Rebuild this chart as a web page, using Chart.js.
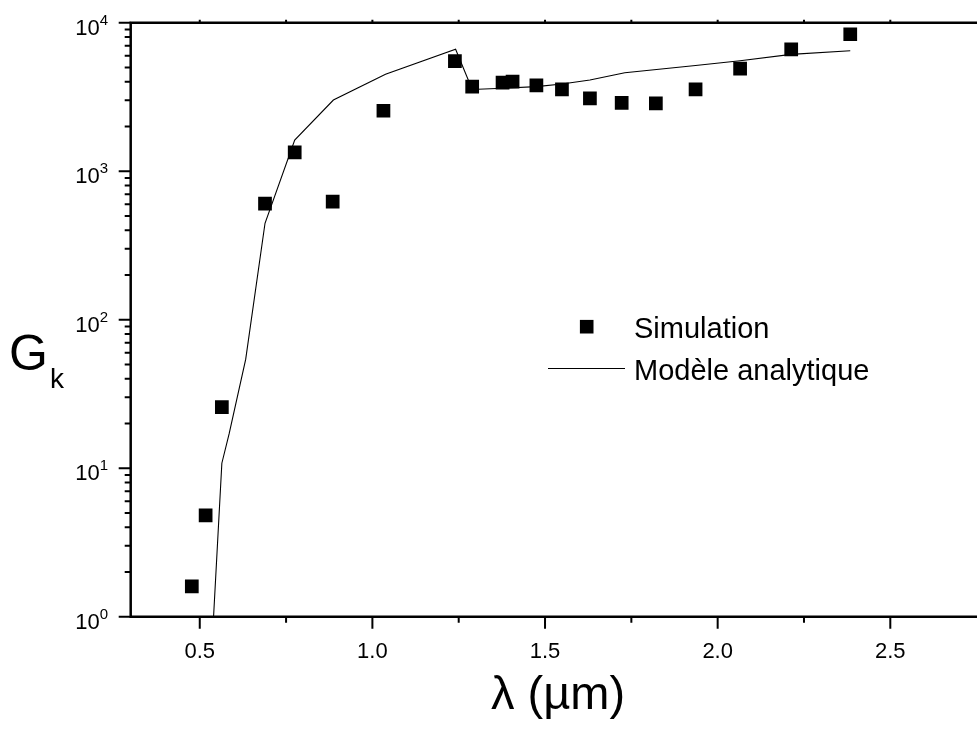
<!DOCTYPE html>
<html>
<head>
<meta charset="utf-8">
<script src="https://cdn.jsdelivr.net/npm/chart.js@4.4.1/dist/chart.umd.min.js"></script>
<style>
  html, body { margin: 0; padding: 0; background: #fff; }
  #wrap { width: 977px; height: 732px; position: relative; }
</style>
</head>
<body>
<div id="wrap"><canvas id="gk-chart" width="977" height="732"></canvas></div>
<script>
(function () {
  "use strict";

  /* ---- data ----------------------------------------------------- */
  const simX   = [0.477, 0.517, 0.564, 0.689, 0.775, 0.885, 1.032, 1.239, 1.289, 1.377,
                  1.406, 1.475, 1.549, 1.630, 1.722, 1.821, 1.936, 2.065, 2.213, 2.384];
  const simY   = [1.60, 4.82, 25.8, 604, 1340, 623, 2553, 5520, 3710, 3945,
                  4010, 3785, 3560, 3097, 2880, 2865, 3560, 4900, 6620, 8360];

  const modelX = [0.540, 0.564, 0.585, 0.633, 0.689, 0.775, 0.887, 1.038, 1.241, 1.289,
                  1.377, 1.475, 1.549, 1.630, 1.731, 1.936, 2.065, 2.213, 2.384];
  const modelY = [1.0, 10.8, 17, 54, 446, 1622, 3013, 4500, 6620, 3550,
                  3620, 3710, 3865, 4110, 4600, 5150, 5550, 6120, 6470];

  const xMajor = [0.5, 1.0, 1.5, 2.0, 2.5];
  const xMinor = [0.75, 1.25, 1.75, 2.25];
  const yDecades = [0, 1, 2, 3, 4];

  const FONT = '"Liberation Sans", Arial, Helvetica, sans-serif';
  const INK  = "#000";

  const toPts = (xs, ys) => xs.map((x, i) => ({ x: x, y: ys[i] }));

  /* ---- axes, ticks, labels and legend drawn on top -------------- */
  const frame = {
    id: "frame",
    afterDraw(chart) {
      const ctx = chart.ctx;
      const a = chart.chartArea;
      const xs = chart.scales.x;
      const ys = chart.scales.y;
      const W = chart.width;

      ctx.save();
      ctx.strokeStyle = INK;
      ctx.fillStyle = INK;

      /* frame lines */
      ctx.lineWidth = 2.5;
      ctx.beginPath();
      ctx.moveTo(a.left, a.top - 1.2);
      ctx.lineTo(a.left, a.bottom + 1.2);
      ctx.moveTo(a.left, a.bottom);
      ctx.lineTo(W, a.bottom);
      ctx.moveTo(a.left, a.top);
      ctx.lineTo(W, a.top);
      ctx.stroke();

      /* x ticks */
      ctx.lineWidth = 2;
      ctx.beginPath();
      xMajor.forEach((v) => {
        const p = xs.getPixelForValue(v);
        ctx.moveTo(p, a.bottom); ctx.lineTo(p, a.bottom + 12);
        ctx.moveTo(p, a.top);    ctx.lineTo(p, a.top - 3);
      });
      xMinor.forEach((v) => {
        const p = xs.getPixelForValue(v);
        ctx.moveTo(p, a.bottom); ctx.lineTo(p, a.bottom + 6);
        ctx.moveTo(p, a.top);    ctx.lineTo(p, a.top - 3);
      });
      ctx.stroke();

      ctx.font = "22px " + FONT;
      ctx.textAlign = "center";
      ctx.textBaseline = "alphabetic";
      xMajor.forEach((v) => {
        ctx.fillText(v.toFixed(1), xs.getPixelForValue(v), a.bottom + 41);
      });

      /* y ticks: decades and 2..9 minors */
      ctx.beginPath();
      yDecades.forEach((d) => {
        const p = ys.getPixelForValue(Math.pow(10, d));
        ctx.moveTo(a.left, p); ctx.lineTo(a.left - 12, p);
        if (d < 4) {
          for (let m = 2; m <= 9; m++) {
            const q = ys.getPixelForValue(m * Math.pow(10, d));
            ctx.moveTo(a.left, q); ctx.lineTo(a.left - 6, q);
          }
        }
      });
      ctx.stroke();

      yDecades.forEach((d) => {
        const p = ys.getPixelForValue(Math.pow(10, d));
        ctx.textAlign = "right";
        ctx.font = "22px " + FONT;
        ctx.fillText("10", a.left - 31, p + 12);
        ctx.textAlign = "left";
        ctx.font = "15px " + FONT;
        ctx.fillText(String(d), a.left - 31, p + 2);
      });

      /* axis titles */
      ctx.textAlign = "left";
      ctx.font = "50px " + FONT;
      ctx.fillText("G", 9, 370);
      ctx.font = "28px " + FONT;
      ctx.fillText("k", 50, 388);

      ctx.textAlign = "center";
      ctx.font = "47px " + FONT;
      ctx.fillText("\u03bb (\u00b5m)", 558, 709);

      /* legend */
      ctx.fillRect(586.7 - 6.8, 326.7 - 6.8, 13.6, 13.6);
      ctx.lineWidth = 1;
      ctx.beginPath();
      ctx.moveTo(548, 368.5); ctx.lineTo(625, 368.5);
      ctx.stroke();
      ctx.textAlign = "left";
      ctx.font = "29px " + FONT;
      ctx.fillText("Simulation", 634, 338);
      ctx.fillText("Mod\u00e8le analytique", 634, 380);

      ctx.restore();
    },
  };

  new Chart(document.getElementById("gk-chart").getContext("2d"), {
    type: "scatter",
    data: {
      datasets: [
        {
          label: "Mod\u00e8le analytique",
          data: toPts(modelX, modelY),
          showLine: true,
          borderColor: INK,
          borderWidth: 1.1,
          pointRadius: 0,
          tension: 0,
        },
        {
          label: "Simulation",
          data: toPts(simX, simY),
          showLine: false,
          pointStyle: "rect",
          pointRadius: 9.7,
          pointBorderWidth: 0,
          backgroundColor: INK,
          borderColor: INK,
        },
      ],
    },
    options: {
      responsive: false,
      animation: false,
      devicePixelRatio: 1,
      layout: { padding: { left: 130.7, top: 22.7, right: 0, bottom: 115.3 } },
      plugins: { legend: { display: false }, tooltip: { enabled: false } },
      scales: {
        x: { type: "linear", min: 0.3, max: 2.723, display: false },
        y: { type: "logarithmic", min: 1, max: 10000, display: false },
      },
    },
    plugins: [frame],
  });
})();
</script>
</body>
</html>
